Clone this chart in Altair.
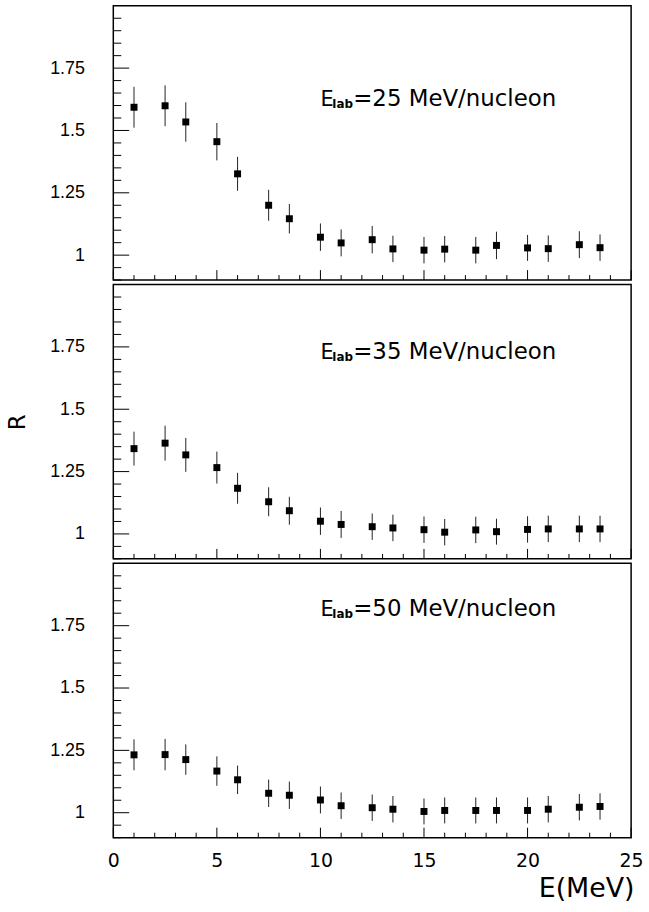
import altair as alt
import pandas as pd

# ---- data ----
energy = [1, 2.5, 3.5, 5, 6, 7.5, 8.5, 10, 11, 12.5, 13.5, 15, 16, 17.5, 18.5, 20, 21, 22.5, 23.5]

r25 = [1.593, 1.599, 1.534, 1.455, 1.326, 1.200, 1.146, 1.072, 1.049, 1.062,
       1.025, 1.020, 1.024, 1.020, 1.039, 1.029, 1.026, 1.042, 1.030]
err25 = [0.082, 0.082, 0.079, 0.075, 0.068, 0.062, 0.059, 0.055, 0.054, 0.055,
         0.053, 0.053, 0.053, 0.053, 0.055, 0.052, 0.053, 0.054, 0.053]

r35 = [1.342, 1.364, 1.317, 1.266, 1.183, 1.129, 1.093, 1.051, 1.038, 1.029,
       1.024, 1.017, 1.007, 1.016, 1.009, 1.018, 1.020, 1.020, 1.020]
err35 = [0.068, 0.070, 0.068, 0.064, 0.062, 0.058, 0.056, 0.055, 0.054, 0.053,
         0.053, 0.053, 0.053, 0.053, 0.052, 0.053, 0.053, 0.053, 0.053]

r50 = [1.232, 1.233, 1.213, 1.167, 1.132, 1.078, 1.070, 1.051, 1.028, 1.020,
       1.014, 1.005, 1.009, 1.009, 1.009, 1.009, 1.014, 1.022, 1.025]
err50 = [0.062, 0.063, 0.061, 0.059, 0.057, 0.055, 0.055, 0.054, 0.053, 0.053,
         0.053, 0.052, 0.052, 0.052, 0.052, 0.052, 0.053, 0.053, 0.053]

label_main = "E"
label_sub = "lab"
label_rest = ["=25 MeV/nucleon", "=35 MeV/nucleon", "=50 MeV/nucleon"]
label_x = 10.0
label_y = [1.60, 1.70, 1.79]

x_domain = [0, 25]
y_domain = [0.9, 2.0]
x_major = [0, 5, 10, 15, 20, 25]
x_minor = [1, 2, 3, 4, 6, 7, 8, 9, 11, 12, 13, 14, 16, 17, 18, 19, 21, 22, 23, 24]
y_major = [1, 1.25, 1.5, 1.75]
y_minor = [0.9, 0.95, 1.05, 1.1, 1.15, 1.2, 1.3, 1.35, 1.4, 1.45,
           1.55, 1.6, 1.65, 1.7, 1.8, 1.85, 1.9, 1.95]

x_title = "E(MeV)"
y_title = "R"

W, H = 521, 276


def panel(r, e, rest_text, lab_y, show_x, show_ytitle):
    df = pd.DataFrame({"E": energy, "R": r,
                       "lo": [a - b for a, b in zip(r, e)],
                       "hi": [a + b for a, b in zip(r, e)]})
    xs = alt.Scale(domain=x_domain, nice=False, zero=False)
    ys = alt.Scale(domain=y_domain, nice=False, zero=False)
    if show_x:
        ax_x = alt.Axis(values=x_major, format="d", ticks=False, tickSize=0, domain=False,
                        grid=False, labelPadding=14, labelFont="DejaVu Sans", labelFontSize=19,
                        labelColor="black", labelFlush=False, labelOverlap=False,
                        title=x_title, titleFont="DejaVu Sans", titleFontSize=27,
                        titleFontWeight="normal", titleColor="black",
                        titleX=W + 3, titleY=59, titleAlign="right",
                        titleBaseline="alphabetic")
    else:
        ax_x = None
    common_y = dict(values=y_major, labelExpr="'' + datum.value", ticks=False, tickSize=0,
                    domain=False, grid=False, labelPadding=29, labelFont="Liberation Sans",
                    labelFontSize=18, labelColor="black", labelFlush=False,
                    labelOverlap=False)
    if show_ytitle:
        ax_y = alt.Axis(**common_y, title=y_title, titleFont="DejaVu Sans", titleFontSize=23,
                        titleFontWeight="normal", titleColor="black",
                        titleX=-96, titleY=H / 2, titleAlign="center", titleBaseline="middle")
    else:
        ax_y = alt.Axis(**common_y, title=None)

    def X(f):
        return alt.X(f, scale=xs, axis=ax_x)

    def Y(f):
        return alt.Y(f, scale=ys, axis=ax_y)

    err = alt.Chart(df).mark_rule(color="#222222", strokeWidth=1).encode(
        x=X("E:Q"), y=Y("lo:Q"), y2="hi:Q")
    pts = alt.Chart(df).mark_square(size=49, color="black", opacity=1).encode(
        x=X("E:Q"), y=Y("R:Q"))

    xmaj = alt.Chart(pd.DataFrame({"v": x_major})).mark_rule(color="black").encode(
        x=X("v:Q"), y=alt.value(H), y2=alt.value(H - 10))
    xmin = alt.Chart(pd.DataFrame({"v": x_minor})).mark_rule(color="black").encode(
        x=X("v:Q"), y=alt.value(H), y2=alt.value(H - 5))
    ymaj = alt.Chart(pd.DataFrame({"v": y_major})).mark_rule(color="black").encode(
        y=Y("v:Q"), x=alt.value(0), x2=alt.value(16))
    ymin = alt.Chart(pd.DataFrame({"v": y_minor})).mark_rule(color="black").encode(
        y=Y("v:Q"), x=alt.value(0), x2=alt.value(8))

    lab = pd.DataFrame({"x": [label_x], "y": [lab_y], "a": [label_main],
                        "b": [label_sub], "c": [rest_text]})
    t1 = alt.Chart(lab).mark_text(align="left", baseline="alphabetic", font="DejaVu Sans",
                                  fontSize=21, color="black").encode(
        x=X("x:Q"), y=Y("y:Q"), text="a:N")
    t2 = alt.Chart(lab).mark_text(align="left", baseline="alphabetic", font="DejaVu Sans",
                                  fontSize=12, fontWeight="bold", color="black",
                                  dx=12, dy=2).encode(
        x=X("x:Q"), y=Y("y:Q"), text="b:N")
    t3 = alt.Chart(lab).mark_text(align="left", baseline="alphabetic", font="DejaVu Sans",
                                  fontSize=23, color="black", dx=33).encode(
        x=X("x:Q"), y=Y("y:Q"), text="c:N")

    return alt.layer(err, pts, xmaj, xmin, ymaj, ymin, t1, t2, t3).properties(width=W, height=H)


p1 = panel(r25, err25, label_rest[0], label_y[0], False, False)
p2 = panel(r35, err35, label_rest[1], label_y[1], False, True)
p3 = panel(r50, err50, label_rest[2], label_y[2], True, False)

chart = alt.vconcat(p1, p2, p3, spacing=1.5).configure_view(
    stroke="black", strokeWidth=1.5
).properties(
    padding={"left": 6, "top": 2, "right": 5, "bottom": 5},
    background="white"
)

chart.save("out.html", embed_options={"renderer": "svg", "actions": False})
